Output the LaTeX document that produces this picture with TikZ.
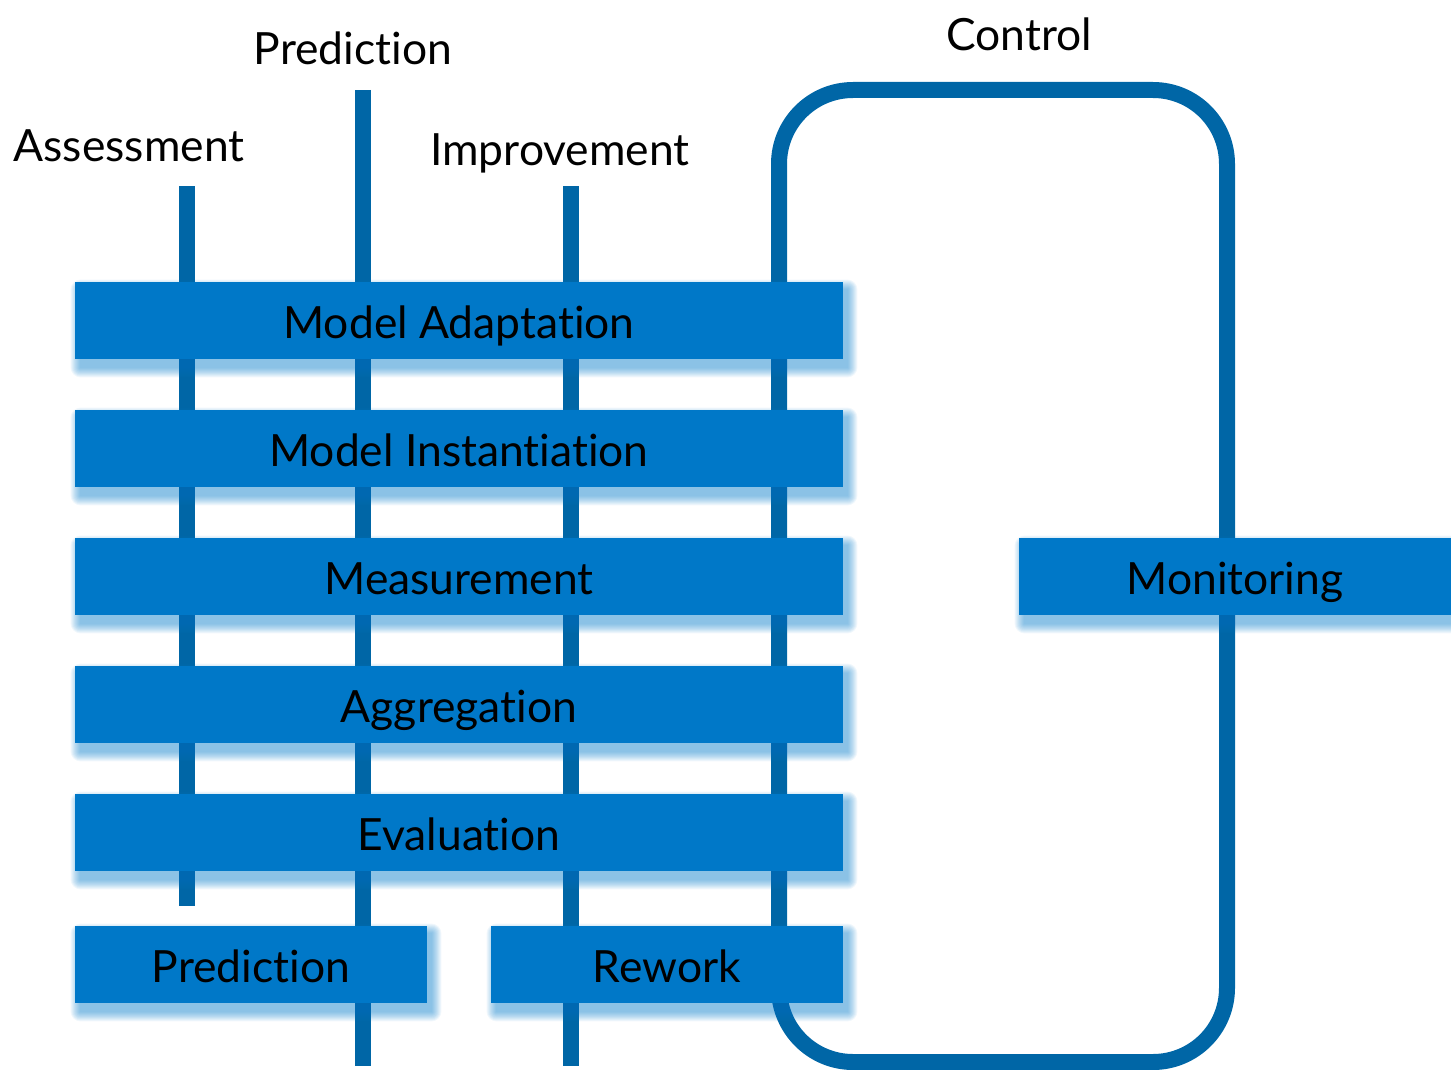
\documentclass[tikz,border=0pt]{standalone}
\usepackage{fontspec}
\setmainfont{Lato}[Ligatures={NoCommon,NoRare}]
\definecolor{boxblue}{RGB}{0,120,200}
\definecolor{lineblue}{RGB}{0,102,166}
\pgfdeclarelayer{bg}
\pgfdeclarelayer{shadowlayer}
\pgfsetlayers{bg,shadowlayer,main}
\begin{document}
\begin{tikzpicture}[x=0.5pt,y=-0.5pt,
  stage/.style={fill=boxblue, inner sep=0pt, text=black, minimum height=38.5pt,
    text height=17.5pt, text depth=0pt, font=\fontsize{22.2}{26}\selectfont},
  bar/.style={draw=lineblue, line width=8pt},
  lbl/.style={anchor=base, inner sep=0pt, font=\fontsize{22.2}{26}\selectfont}]
\useasboundingbox (0,0) rectangle (1451,1070);
% boxes
\node[stage, minimum width=384pt] (ma) at (459,320.5) {Model Adaptation};
\node[stage, minimum width=384pt] (mi) at (459,448.5) {Model Instantiation};
\node[stage, minimum width=384pt] (me) at (459,576.5) {Measurement};
\node[stage, minimum width=384pt] (ag) at (459,704.5) {Aggregation};
\node[stage, minimum width=384pt] (ev) at (459,832.5) {Evaluation};
\node[stage, minimum width=176pt] (pr) at (251,964.5) {Prediction};
\node[stage, minimum width=176pt] (rw) at (667,964.5) {Rework};
\node[stage, minimum width=216pt] (mo) at (1235,576.5) {Monitoring};
% shadows
\begin{pgfonlayer}{shadowlayer}
\foreach \n in {ma,mi,me,ag,ev,pr,rw,mo}{
  \foreach \k in {0,...,9}{
    \fill[boxblue, opacity=0.06, rounded corners={(10-\k)*0.5pt}]
      ([xshift={(-4+\k)*0.5pt}, yshift={(2-\k)*0.5pt}]\n.north west) rectangle
      ([xshift={(14-\k)*0.5pt}, yshift={-(18-\k)*0.5pt}]\n.south east);
  }
}
\end{pgfonlayer}
% labels
\node[lbl] (lA) at (129,162) {Assessment};
\node[lbl] (lP) at (353,65) {Prediction};
\node[lbl] (lI) at (560,165) {Improvement};
\node[lbl] (lC) at (1019,51) {Control};
% lines
\coordinate (aT) at (187,186);
\coordinate (aB) at (187,905.5);
\coordinate (pT) at (363,90);
\coordinate (pB) at (363,1065.5);
\coordinate (iT) at (571,186);
\coordinate (iB) at (571,1065.5);
\coordinate (cNW) at (779,90);
\coordinate (cSE) at (1227,1062);
\begin{pgfonlayer}{bg}
\draw[bar] (aT) -- (aB);
\draw[bar] (pT) -- (pB);
\draw[bar] (iT) -- (iB);
\draw[bar, rounded corners=37pt] (cNW) rectangle (cSE);
\end{pgfonlayer}
\end{tikzpicture}
\end{document}
